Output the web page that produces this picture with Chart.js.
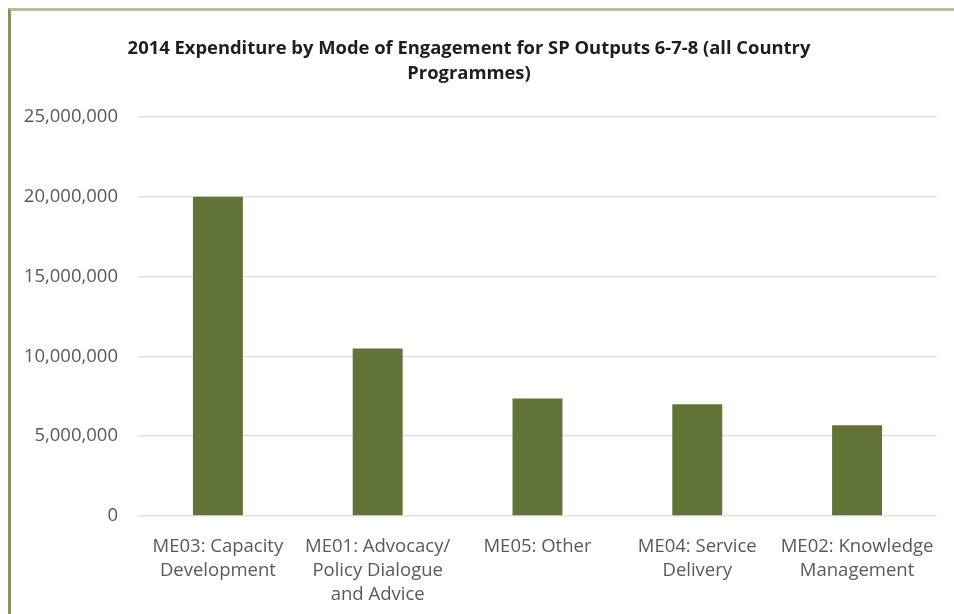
<!DOCTYPE html>
<html>
<head>
<meta charset="utf-8">
<script src="https://cdn.jsdelivr.net/npm/chart.js@4.4.1/dist/chart.umd.min.js"></script>
<style>
    html, body { margin: 0; padding: 0; background: #fff; overflow: hidden; }
    #frame {
        position: absolute; left: 8px; top: 8px; width: 2000px; height: 2000px;
        border-top: 3px solid #b5c0a0; border-left: 3px solid #859560;
        pointer-events: none;
    }
    #wrap { position: absolute; left: 0; top: 0; width: 954px; height: 614px; }
</style>
</head>
<body>
<div id="frame"></div>
<div id="wrap"><canvas id="expChart"></canvas></div>
<script>
// chart data
const categories = [
    ["ME03: Capacity", "Development"],
    ["ME01: Advocacy/", "Policy Dialogue", "and Advice"],
    ["ME05: Other"],
    ["ME04: Service", "Delivery"],
    ["ME02: Knowledge", "Management"]
];
const expenditure = [20000000, 10500000, 7370000, 7000000, 5690000];
const yTicks = [0, 5000000, 10000000, 15000000, 20000000, 25000000];
const chartTitle = ["2014 Expenditure by Mode of Engagement for SP Outputs 6-7-8 (all Country", "Programmes)"];

document.addEventListener("DOMContentLoaded", () => {
    const ctx = document.getElementById("expChart");

    new Chart(ctx, {
        type: "bar",
        data: {
            labels: categories,
            datasets: [{
                data: expenditure,
                backgroundColor: "#627336",
                borderWidth: 0,
                categoryPercentage: 1,
                barPercentage: 0.3125
            }]
        },
        options: {
            responsive: true,
            maintainAspectRatio: false,
            animation: false,
            layout: { padding: { left: 0, right: 16, top: 0, bottom: 0 } },
            plugins: {
                legend: { display: false },
                tooltip: { enabled: false },
                title: {
                    display: true,
                    text: chartTitle,
                    color: "#1e1e1e",
                    font: { family: "'Open Sans'", size: 18.4, weight: "bold", lineHeight: 1.36 },
                    padding: { top: 36, bottom: 31 }
                }
            },
            scales: {
                x: {
                    afterFit: (scale) => { scale.height = 98; }, // plot bottom at the same place as the picture
                    grid: { display: false, drawTicks: false },
                    border: { display: false },
                    ticks: {
                        color: "#595959",
                        font: { family: "'Open Sans'", size: 18.5, lineHeight: 1.3 },
                        padding: 19,
                        maxRotation: 0,
                        autoSkip: false
                    }
                },
                y: {
                    min: 0,
                    max: 25000000,
                    afterFit: (scale) => { scale.width = 138; }, // keep plot left edge where the picture has it
                    afterBuildTicks: (scale) => { scale.ticks = yTicks.map(v => ({ value: v })); },
                    grid: { color: "#e2e2e2", lineWidth: 1.5, drawTicks: false },
                    border: { display: false },
                    ticks: {
                        color: "#595959",
                        font: { family: "'Open Sans'", size: 18.5 },
                        padding: 20,
                        callback: (v) => v.toLocaleString("en-US")
                    }
                }
            }
        }
    });
});
</script>
</body>
</html>
